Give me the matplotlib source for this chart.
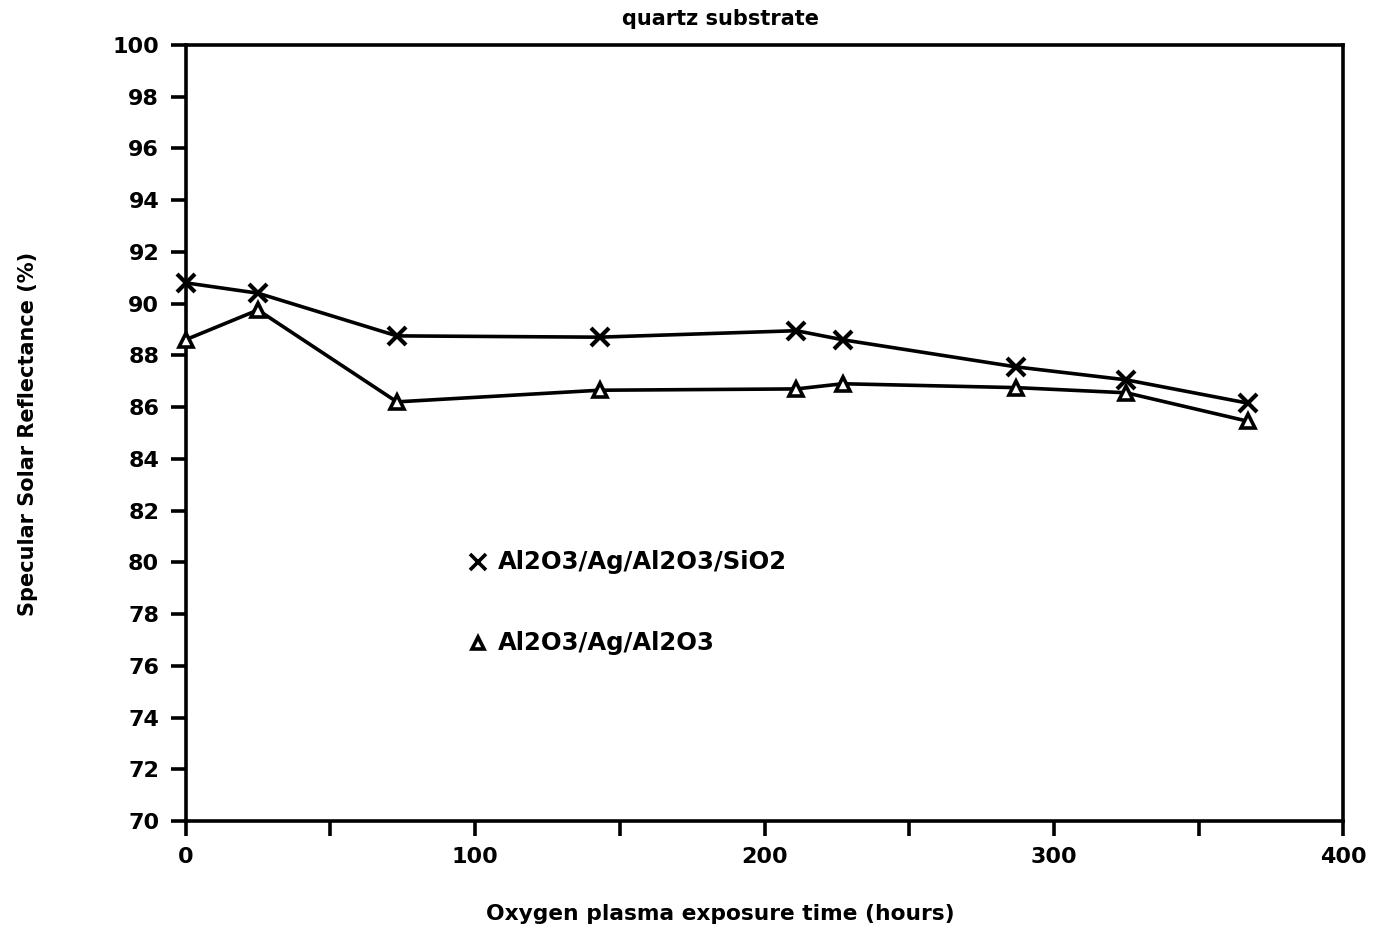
import numpy as np
import matplotlib
matplotlib.use("Agg")
import matplotlib.pyplot as plt
from matplotlib.ticker import MultipleLocator

# Exposure times (hours) and reflectance (%) for the two coatings
hours = [0, 25, 73, 143, 211, 227, 287, 325, 367]
refl_sio2 = [90.8, 90.4, 88.75, 88.7, 88.95, 88.6, 87.55, 87.05, 86.15]
refl_al2o3 = [88.6, 89.75, 86.2, 86.65, 86.7, 86.9, 86.75, 86.55, 85.45]

label_sio2 = "Al2O3/Ag/Al2O3/SiO2"
label_al2o3 = "Al2O3/Ag/Al2O3"

plt.rcParams["font.family"] = ["DejaVu Sans"]
plt.rcParams["font.weight"] = "bold"

fig = plt.figure(figsize=(13.85, 9.33), dpi=100)
ax = fig.add_axes([0.134, 0.120, 0.836, 0.832])

ax.plot(hours, refl_sio2, color="black", lw=2.6, marker="x", ms=13, mew=3,
        clip_on=False, zorder=3)
ax.plot(hours, refl_al2o3, color="black", lw=2.6, marker="^", ms=10, mew=2.6,
        mfc="white", mec="black", clip_on=False, zorder=3)

ax.set_xlim(0, 400)
ax.set_ylim(70, 100)
ax.yaxis.set_major_locator(MultipleLocator(2))
ax.set_xticks([0, 50, 100, 150, 200, 250, 300, 350, 400])
ax.set_xticklabels(["0", "", "100", "", "200", "", "300", "", "400"])

for s in ax.spines.values():
    s.set_linewidth(2.6)
ax.tick_params(direction="out", length=11, width=2.6, labelsize=16, pad=8)
for lab in ax.get_xticklabels() + ax.get_yticklabels():
    lab.set_fontweight("bold")

# legend drawn as plain markers and text inside the axes
ax.plot([101], [80.0], marker="x", color="black", ms=11, mew=2.6)
ax.text(108, 80.0, label_sio2, fontsize=17.5, fontweight="bold", va="center")
ax.plot([101], [76.9], marker="^", color="black", ms=9, mew=2.6, mfc="white")
ax.text(108, 76.9, label_al2o3, fontsize=17.5, fontweight="bold", va="center")

fig.text(0.52, 0.980, "quartz substrate", ha="center", va="center",
         fontsize=15, fontweight="bold")
fig.text(0.52, 0.020, "Oxygen plasma exposure time (hours)", ha="center",
         va="center", fontsize=15.7, fontweight="bold")
fig.text(0.020, 0.535, "Specular Solar Reflectance (%)", ha="center",
         va="center", rotation=90, fontsize=15, fontweight="bold")

fig.savefig("out.png", dpi=100, facecolor="white")
